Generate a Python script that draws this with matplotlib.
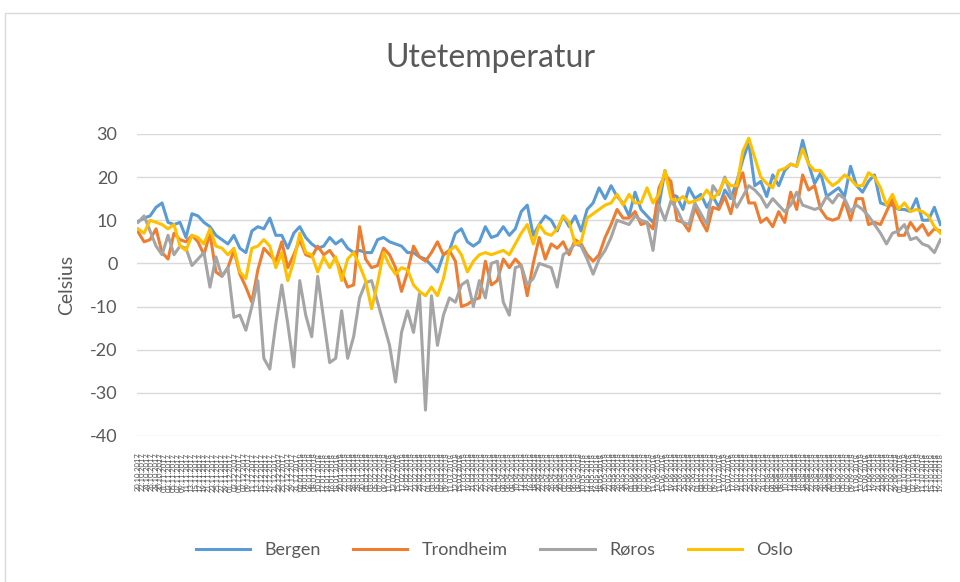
import numpy as np
import pandas as pd
import matplotlib
matplotlib.use("Agg")
import matplotlib.pyplot as plt
from matplotlib.patches import Rectangle

# daily outdoor temperatures (~every 2.7 days)
bergen = [9.7, 10.5, 11, 13, 14, 9.5, 9, 9.5, 6, 11.5, 11, 9.5, 8.5, 6.5, 5.5, 4.5, 6.5, 3.5, 2.5, 7.5, 8.5, 8,
          10.5, 6.5, 6.5, 3.5, 7, 8.5, 6, 4.5, 3.5, 4, 6, 4.5, 5.5, 3.5, 2.5, 3, 2.5, 2.5, 5.5, 6, 5, 4.5, 4,
          2.5, 2.5, 1.5, 1, -0.5, -2, 2, 3, 7, 8, 5, 4, 5, 8.5, 6, 6.5, 8.5, 6.5, 8, 12, 13.5, 6.5, 9,
          11, 10, 7.5, 11, 8.5, 11, 7.5, 12.5, 14, 17.5, 15, 18, 15.5, 14, 11, 16.5, 12.5, 11, 9.5, 13.5, 21.5, 16, 15.5,
          12.5, 17.5, 15, 16, 13, 15.5, 13, 17, 15, 19, 24, 28, 18, 19, 15.5, 20.5, 18, 21.5, 23, 22.5, 28.5, 23, 18.5,
          21, 15.5, 16.5, 17.5, 15.5, 22.5, 18, 16.5, 19, 20.5, 14, 13.5, 13.5, 12.5, 12.5, 12, 15, 10, 10, 13, 9]
trondheim = [7.3, 5, 5.5, 8, 2.5, 1, 7, 5.5, 5, 6.5, 5, 2, 7, -2, -3, -1, 3, -2.5, -5.5, -9, -1.5, 3.5,
             2, 0.5, 5, -1, 2, 5.5, 2, 1.5, 4, 2, 3, 1, -2, -5.5, -5, 8.5, 1, -1, -0.5, 3.5, 2, -1, -6.5,
             -2, 4, 1.5, 0.5, 2.5, 5, 2, 3, 0.5, -10, -9.5, -8.5, -8, 0.5, -5, -4, 1, -1, 1, -0.5, -7.5, 0, 6,
             1, 4.5, 3.5, 5, 2, 5.5, 4.5, 2, 0.5, 2, 6, 9, 12.5, 10.5, 10.5, 12, 9, 9.5, 8, 17.5, 20.5, 19, 10,
             9.5, 7.5, 13, 10, 7.5, 13, 12.5, 15.5, 11.5, 17.5, 21, 14, 14, 9.5, 10.5, 8.5, 12, 9.5, 16.5, 12.5, 20.5, 17, 18,
             12.5, 10.5, 10, 10.5, 14.5, 10, 15, 15, 9, 9.5, 9, 12, 15, 6.5, 6.5, 9.5, 7.5, 9, 6.5, 8, 7.5]
roros = [9.5, 11, 7.5, 4, 2, 6.5, 2, 4, 3.5, -0.5, 1, 2.5, -5.5, 1.5, -3, -1, -12.5, -12, -15.5, -10, -4, -22,
         -24.5, -14, -5, -14, -24, -4, -12, -17, -3, -13, -23, -22, -11, -22, -17, -8, -4.5, -4, -9, -14, -19, -27.5, -16,
         -11, -16, -7, -34, -7.5, -19, -12, -8, -9, -5, -4, -10, -4, -8, 0, 0.5, -9, -12, -1, -0.5, -5, -3.5, 0,
         -0.5, -1, -5.5, 2, 3, 4.5, 4, 1, -2.5, 1, 3, 6, 10, 9.5, 9, 11, 10, 9.5, 3, 13.5, 10, 14.5, 12.5,
         9.5, 9, 14, 11.5, 9, 18, 16, 20, 16, 13, 15.5, 18, 17, 15.5, 13, 15, 13.5, 12, 13.5, 16.5, 13.5, 13, 12.5,
         13, 15.5, 14, 16, 15, 12, 13.5, 12.5, 11, 9, 7, 4.5, 7, 7.5, 9, 5.5, 6, 4.5, 4, 2.5, 5.5]
oslo = [8, 7, 10, 9.5, 9, 8, 9, 4, 3, 6.5, 6, 4.5, 8, 4, 3.5, 2, 3.5, -2, -3.5, 3.5, 4, 5.5,
        4, -1, 2.5, -4, 0.5, 7, 2.5, 2, -2, 1.5, -1, 1.5, -4, 1, 2.5, -0.5, -4, -10.5, -4.5, 2.5, -0.5, -2.5, -1,
        -1.5, -5, -6.5, -7.5, -5.5, -7.5, -3.5, 3, 4, 2, -2, 0.5, 2, 2.5, 2, 2.5, 3, 2, 4.5, 7, 9, 4.5, 9,
        7, 6.5, 8, 11, 9.5, 4.5, 5, 10.5, 11.5, 12.5, 13.5, 14, 16, 13.5, 16, 14, 14, 17.5, 14, 16, 21.5, 15, 14.5,
        15.5, 14, 14.5, 15, 17, 15, 16.5, 19.5, 18, 18, 26, 29, 24.5, 20, 18.5, 17.5, 21.5, 22, 23, 22.5, 26.5, 23, 21.5,
        21.5, 19.5, 18, 19, 20.5, 19.5, 18, 18, 21, 20, 17.5, 13.5, 16, 12.5, 14, 12, 12.5, 12, 11, 8.5, 7]

series = {"Bergen": bergen, "Trondheim": trondheim, "Røros": roros, "Oslo": oslo}
colors = {"Bergen": "#5B9BD5", "Trondheim": "#ED7D31", "Røros": "#A5A5A5", "Oslo": "#FFC000"}

days = pd.date_range("2017-10-20", periods=365, freq="D")
day_labels = [d.strftime("%d.%m.%Y") for d in days]

plt.rcParams['font.family'] = ['Lato', 'DejaVu Sans']
plt.rcParams['axes.unicode_minus'] = False
txt = "#595959"

fig = plt.figure(figsize=(9.6, 5.82), dpi=100)
fig.patches.append(Rectangle((5/960, -0.1), 1.1, 0.1 + 1 - 13/582, transform=fig.transFigure,
                             fill=False, edgecolor="#d9d9d9", lw=1))

ax = fig.add_axes([0.1427, 0.2509, 0.838, 0.519])
for name, vals in series.items():
    x = np.linspace(0, 364, len(vals))
    ax.plot(x, vals, color=colors[name], lw=2.2, label=name, solid_joinstyle="round")

ax.set_ylim(-40, 30)
ax.set_yticks(range(-40, 31, 10))
ax.set_xlim(-0.5, 364.5)
ticks = np.arange(0, 365, 2)
ax.set_xticks(ticks)
ax.set_xticklabels([day_labels[i] for i in ticks], rotation=90, fontsize=5.5, color=txt)
ax.grid(axis="y", color="#d9d9d9", lw=1)
ax.set_axisbelow(True)
for s in ax.spines.values():
    s.set_visible(False)
ax.tick_params(axis="y", length=0, pad=14, labelsize=13, labelcolor=txt)
ax.tick_params(axis="x", length=0, pad=12)
ax.set_ylabel("Celsius", fontsize=14, color=txt, labelpad=11)

fig.text(0.511, 0.90, "Utetemperatur", ha="center", va="center", fontsize=23, color=txt)
fig.legend(loc="center", bbox_to_anchor=(0.515, 0.055), ncol=4, frameon=False, fontsize=13,
           handlelength=3.0, columnspacing=1.8, labelcolor=txt)

fig.savefig("out.png", dpi=100)
